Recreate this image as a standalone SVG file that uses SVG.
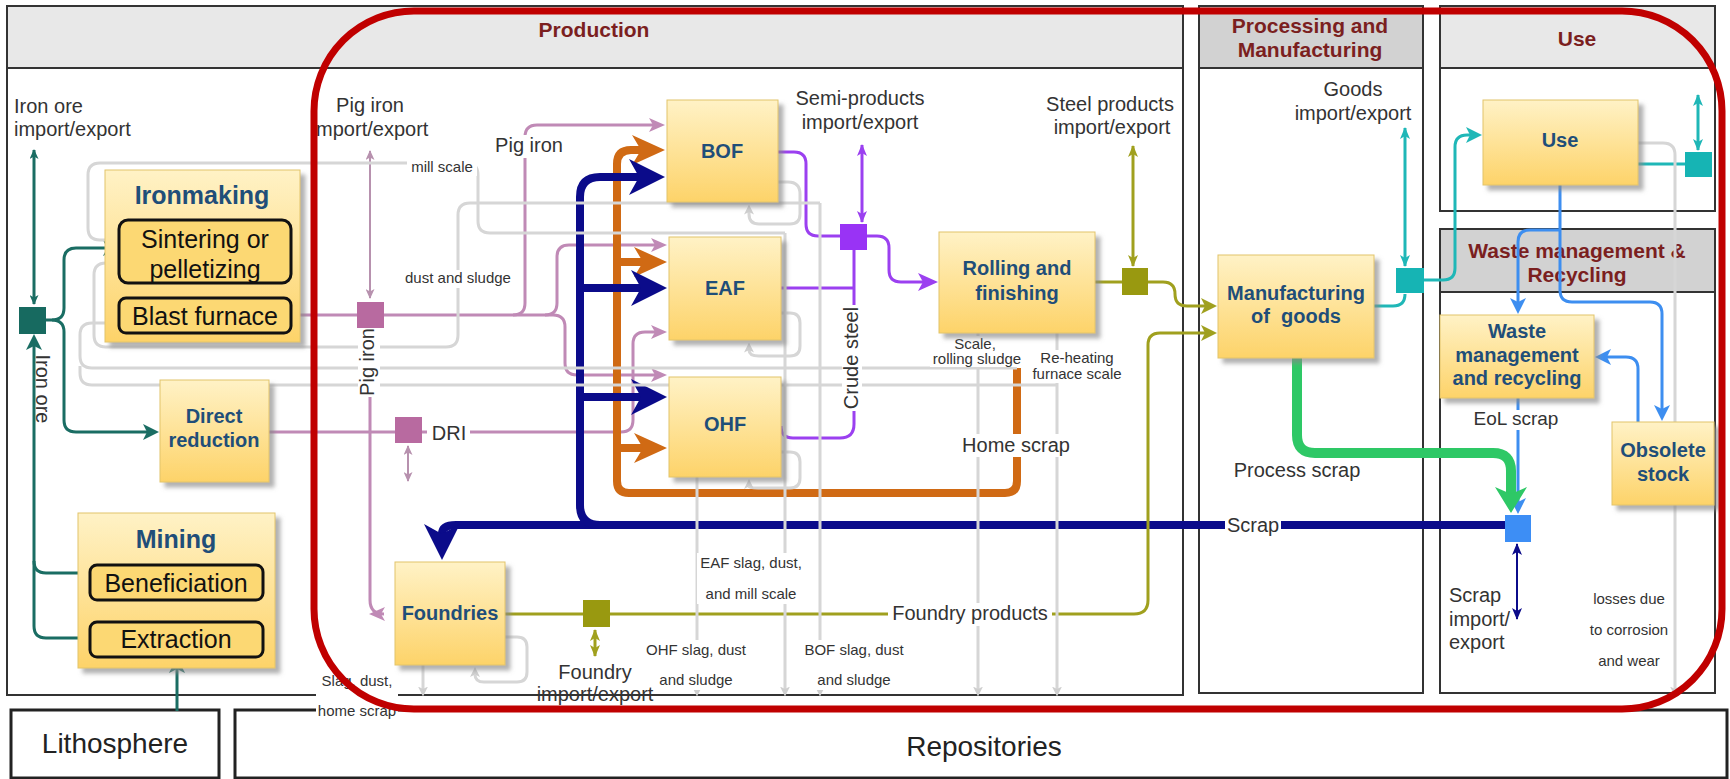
<svg xmlns="http://www.w3.org/2000/svg" width="1730" height="779" viewBox="0 0 1730 779">
<defs>
<style>
.pan{fill:#fff;stroke:#333;stroke-width:2}
.hd1{fill:#e8e8e8;stroke:#333;stroke-width:2}
.hd2{fill:#d2d2d2;stroke:#333;stroke-width:2}
.box{fill:url(#yg);stroke:#e2c46a;stroke-width:1;filter:url(#sh)}
.sub{fill:#fcd873;stroke:#111;stroke-width:3}
.g{fill:none;stroke:#d6d6d6;stroke-width:3}
.tealD{fill:none;stroke:#1a6d63;stroke-width:3}
.pink{fill:none;stroke:#c08ab6;stroke-width:3}
.pinkL{fill:none;stroke:#b791ae;stroke-width:2}
.navy{fill:none;stroke:#0b0b8a;stroke-width:8}
.navyT{fill:none;stroke:#0b0b8a;stroke-width:2}
.org{fill:none;stroke:#d06a14;stroke-width:8}
.pur{fill:none;stroke:#9b40f0;stroke-width:3}
.olv{fill:none;stroke:#a0a01e;stroke-width:3}
.teal{fill:none;stroke:#1fb7b7;stroke-width:3}
.blue{fill:none;stroke:#3d8ef0;stroke-width:3}
.grn{fill:none;stroke:#2ec866;stroke-width:10}
.nt{font-family:'Liberation Sans',Arial,sans-serif;font-weight:bold;font-size:20px;fill:#1f4e79;text-anchor:middle}
.tt{font-family:'Liberation Sans',Arial,sans-serif;font-weight:bold;font-size:25px;fill:#1f4e79;text-anchor:middle}
.st{font-family:'Liberation Sans',Arial,sans-serif;font-size:25px;fill:#111;text-anchor:middle}
.hd{font-family:'Liberation Sans',Arial,sans-serif;font-weight:bold;font-size:21px;fill:#7b1f1f;text-anchor:middle}
.l20{font-family:'Liberation Sans',Arial,sans-serif;font-size:20px;fill:#333;text-anchor:middle}
.l15{font-family:'Liberation Sans',Arial,sans-serif;font-size:15px;fill:#333;text-anchor:middle}
.big{font-family:'Liberation Sans',Arial,sans-serif;font-size:28px;fill:#222;text-anchor:middle}
.wb{fill:#fff}
</style>
<linearGradient id="yg" x1="0" y1="0" x2="0" y2="1">
<stop offset="0" stop-color="#fff2c6"/>
<stop offset="1" stop-color="#fdd369"/>
</linearGradient>
<filter id="sh" x="-10%" y="-10%" width="130%" height="130%">
<feDropShadow dx="5" dy="5" stdDeviation="2" flood-color="#888" flood-opacity="0.65"/>
</filter>
<marker id="mNavy" markerUnits="userSpaceOnUse" viewBox="0 0 36 36" markerWidth="36" markerHeight="36" refX="10" refY="18" orient="auto"><path d="M0,0 L36,18 L0,36 L10,18 z" fill="#0b0b8a"/></marker>
<marker id="mOrg" markerUnits="userSpaceOnUse" viewBox="0 0 33 30" markerWidth="33" markerHeight="30" refX="9" refY="15" orient="auto"><path d="M0,0 L33,15 L0,30 L9,15 z" fill="#d06a14"/></marker>
<marker id="mGrn" markerUnits="userSpaceOnUse" viewBox="0 0 26 32" markerWidth="26" markerHeight="32" refX="7" refY="16" orient="auto"><path d="M0,0 L26,16 L0,32 L7,16 z" fill="#2ec866"/></marker>
<marker id="mPink" markerUnits="userSpaceOnUse" viewBox="0 0 16 14" markerWidth="16" markerHeight="14" refX="4" refY="7" orient="auto"><path d="M0,0 L16,7 L0,14 L4,7 z" fill="#c08ab6"/></marker>
<marker id="mTealD" markerUnits="userSpaceOnUse" viewBox="0 0 16 16" markerWidth="16" markerHeight="16" refX="4" refY="8" orient="auto"><path d="M0,0 L16,8 L0,16 L4,8 z" fill="#1a6d63"/></marker>
<marker id="mPur" markerUnits="userSpaceOnUse" viewBox="0 0 20 18" markerWidth="20" markerHeight="18" refX="5" refY="9" orient="auto"><path d="M0,0 L20,9 L0,18 L5,9 z" fill="#9b40f0"/></marker>
<marker id="mOlv" markerUnits="userSpaceOnUse" viewBox="0 0 16 16" markerWidth="16" markerHeight="16" refX="4" refY="8" orient="auto"><path d="M0,0 L16,8 L0,16 L4,8 z" fill="#a0a01e"/></marker>
<marker id="mTeal" markerUnits="userSpaceOnUse" viewBox="0 0 16 16" markerWidth="16" markerHeight="16" refX="4" refY="8" orient="auto"><path d="M0,0 L16,8 L0,16 L4,8 z" fill="#1fb7b7"/></marker>
<marker id="mBlue" markerUnits="userSpaceOnUse" viewBox="0 0 16 16" markerWidth="16" markerHeight="16" refX="4" refY="8" orient="auto"><path d="M0,0 L16,8 L0,16 L4,8 z" fill="#3d8ef0"/></marker>
<marker id="mGray" markerUnits="userSpaceOnUse" viewBox="0 0 10 10" markerWidth="10" markerHeight="10" refX="2.5" refY="5" orient="auto"><path d="M0,0 L10,5 L0,10 L2.5,5 z" fill="#cfcfcf"/></marker>
<marker id="dTealD" markerUnits="userSpaceOnUse" viewBox="0 0 10 9" markerWidth="10" markerHeight="9" refX="9" refY="4.5" orient="auto-start-reverse"><path d="M0,0 L10,4.5 L0,9 L2.5,4.5 z" fill="#1a6d63"/></marker>
<marker id="dPink" markerUnits="userSpaceOnUse" viewBox="0 0 10 9" markerWidth="10" markerHeight="9" refX="9" refY="4.5" orient="auto-start-reverse"><path d="M0,0 L10,4.5 L0,9 L2.5,4.5 z" fill="#b791ae"/></marker>
<marker id="dPur" markerUnits="userSpaceOnUse" viewBox="0 0 12 10" markerWidth="12" markerHeight="10" refX="11" refY="5" orient="auto-start-reverse"><path d="M0,0 L12,5 L0,10 L3,5 z" fill="#9b40f0"/></marker>
<marker id="dOlv" markerUnits="userSpaceOnUse" viewBox="0 0 12 10" markerWidth="12" markerHeight="10" refX="11" refY="5" orient="auto-start-reverse"><path d="M0,0 L12,5 L0,10 L3,5 z" fill="#a0a01e"/></marker>
<marker id="dTeal" markerUnits="userSpaceOnUse" viewBox="0 0 12 10" markerWidth="12" markerHeight="10" refX="11" refY="5" orient="auto-start-reverse"><path d="M0,0 L12,5 L0,10 L3,5 z" fill="#1fb7b7"/></marker>
<marker id="dNavy" markerUnits="userSpaceOnUse" viewBox="0 0 12 10" markerWidth="12" markerHeight="10" refX="11" refY="5" orient="auto-start-reverse"><path d="M0,0 L12,5 L0,10 L3,5 z" fill="#0b0b8a"/></marker>
</defs>

<rect width="1730" height="779" fill="#fff"/>

<g id="panels">
<rect class="pan" x="7" y="6" width="1176" height="689"/>
<rect class="hd1" x="7" y="6" width="1176" height="62"/>
<text class="hd" x="594" y="37">Production</text>
<rect class="pan" x="1199" y="6" width="224" height="687"/>
<rect class="hd2" x="1199" y="6" width="224" height="62"/>
<text class="hd" x="1310" y="33">Processing and</text>
<text class="hd" x="1310" y="57">Manufacturing</text>
<rect class="pan" x="1440" y="6" width="275" height="205"/>
<rect class="hd1" x="1440" y="6" width="275" height="62"/>
<text class="hd" x="1577" y="46">Use</text>
<rect class="pan" x="1440" y="229" width="275" height="464"/>
<rect class="hd2" x="1440" y="229" width="275" height="63"/>
<text class="hd" x="1577" y="258">Waste management &amp;</text>
<text class="hd" x="1577" y="282">Recycling</text>
</g>

<g id="lithosphere"><rect x="11" y="710" width="208" height="68" fill="#fff" stroke="#222" stroke-width="3"/><text class="big" x="115" y="753">Lithosphere</text></g>
<g id="repositories"><rect x="235" y="710" width="1492" height="68" fill="#fff" stroke="#222" stroke-width="3"/><text class="big" x="984" y="756">Repositories</text></g>

<g id="connectors">
<!-- iron ore (dark teal) -->
<path class="tealD" d="M34,150 L34,304" marker-start="url(#dTealD)" marker-end="url(#dTealD)"/>
<path class="tealD" d="M45,320 L52,320 Q64,320 64,308 L64,260 Q64,248 76,248 L107,248" marker-end="url(#mTealD)"/>
<path class="tealD" d="M52,320 Q64,320 64,332 L64,420 Q64,432 76,432 L147,432" marker-end="url(#mTealD)"/>
<path class="tealD" d="M90,638 L46,638 Q34,638 34,626 L34,346" marker-end="url(#mTealD)"/>
<path class="tealD" d="M90,573 L46,573 Q34,573 34,561"/>
<path class="tealD" d="M177,622 L177,612" marker-end="url(#mTealD)"/>
<path class="tealD" d="M177,711 L177,669" marker-end="url(#mTealD)"/>
<path class="tealD" d="M207,283 L207,298"/>

<!-- pig iron / DRI (pink) -->
<path class="pinkL" d="M370,151 L370,298" marker-start="url(#dPink)" marker-end="url(#dPink)"/>
<path class="pink" d="M291,315 L357,315"/>
<path class="pink" d="M384,315 L513,315 Q525,315 525,303 L525,137 Q525,125 537,125 L653,125" marker-end="url(#mPink)"/>
<path class="pink" d="M513,315 L545,315 Q557,315 557,303 L557,257 Q557,245 569,245 L655,245" marker-end="url(#mPink)"/>
<path class="pink" d="M545,315 L553,315 Q565,315 565,327 L565,363 Q565,375 577,375 L655,375" marker-end="url(#mPink)"/>
<path class="pink" d="M370,328 L370,600 Q370,614 384,614 L381,614" marker-end="url(#mPink)"/>
<path class="pink" d="M269,432 L395,432"/>
<path class="pink" d="M422,432 L621,432 Q633,432 633,420 L633,344 Q633,332 645,332 L655,332" marker-end="url(#mPink)"/>
<path class="pinkL" d="M408,446 L408,481" marker-start="url(#dPink)" marker-end="url(#dPink)"/>

<!-- home scrap (orange) -->
<path class="org" d="M1017,368 L1017,481 Q1017,493 1005,493 L629,493 Q617,493 617,481 L617,164 Q617,150 631,150 L641,150" marker-end="url(#mOrg)"/>
<path class="org" d="M617,262 L643,262" marker-end="url(#mOrg)"/>
<path class="org" d="M617,448 L643,448" marker-end="url(#mOrg)"/>

<!-- scrap (navy) -->
<path class="navy" d="M1505,525 L456,525 Q442,525 442,534" marker-end="url(#mNavy)"/>
<path class="navy" d="M600,525 Q580,525 580,505 L580,197 Q580,177 600,177 L639,177" marker-end="url(#mNavy)"/>
<path class="navy" d="M580,288 L641,288" marker-end="url(#mNavy)"/>
<path class="navy" d="M580,397 L641,397" marker-end="url(#mNavy)"/>
<path class="navyT" d="M1517,544 L1517,619" marker-start="url(#dNavy)" marker-end="url(#dNavy)"/>

<!-- crude steel (purple) -->
<path class="pur" d="M778,152 L794,152 Q806,152 806,164 L806,224 Q806,236 818,236 L840,236"/>
<path class="pur" d="M867,236 L877,236 Q889,236 889,248 L889,270 Q889,282 901,282 L923,282" marker-end="url(#mPur)"/>
<path class="pur" d="M781,288 L854,288"/>
<path class="pur" d="M781,426 Q781,438 793,438 L840,438 Q854,438 854,424 L854,250"/>
<path class="pur" d="M862,145 L862,222" marker-start="url(#dPur)" marker-end="url(#dPur)"/>

<!-- steel / foundry products (olive) -->
<path class="olv" d="M1095,282 L1122,282"/>
<path class="olv" d="M1148,282 L1163,282 Q1175,282 1175,294 Q1175,306 1187,306 L1205,306" marker-end="url(#mOlv)"/>
<path class="olv" d="M1133,146 L1133,266" marker-start="url(#dOlv)" marker-end="url(#dOlv)"/>
<path class="olv" d="M505,614 L583,614"/>
<path class="olv" d="M610,614 L1134,614 Q1148,614 1148,600 L1148,345 Q1148,333 1160,333 L1205,333" marker-end="url(#mOlv)"/>
<path class="olv" d="M595,630 L595,656" marker-start="url(#dOlv)" marker-end="url(#dOlv)"/>

<!-- goods (teal) -->
<path class="teal" d="M1374,306 L1393,306 Q1405,306 1405,294"/>
<path class="teal" d="M1405,128 L1405,266" marker-start="url(#dTeal)" marker-end="url(#dTeal)"/>
<path class="teal" d="M1424,280 L1443,280 Q1455,280 1455,268 L1455,147 Q1455,135 1467,135 L1470,135" marker-end="url(#mTeal)"/>
<path class="teal" d="M1638,164 L1685,164"/>
<path class="teal" d="M1698,95 L1698,150" marker-start="url(#dTeal)" marker-end="url(#dTeal)"/>

<!-- waste (blue) -->
<path class="blue" d="M1560,185 L1560,290 Q1560,302 1572,302 L1650,302 Q1662,302 1662,314 L1662,409" marker-end="url(#mBlue)"/>
<path class="blue" d="M1560,230 L1530,230 Q1518,230 1518,242 L1518,302" marker-end="url(#mBlue)"/>
<path class="blue" d="M1638,422 L1638,369 Q1638,357 1626,357 L1607,357" marker-end="url(#mBlue)"/>
<path class="blue" d="M1518,398 L1518,502" marker-end="url(#mBlue)"/>

<!-- process scrap (green) -->
<path class="grn" d="M1297,358 L1297,435 Q1297,453 1315,453 L1493,453 Q1511,453 1511,471 L1511,494" marker-end="url(#mGrn)"/>

<!-- gray recycling / loss flows -->
<path class="g" d="M785,233 L785,689" marker-end="url(#mGray)"/>
<path class="g" d="M785,233 L490,233 Q478,233 478,221 L478,175 Q478,163 466,163 L100,163 Q88,163 88,175 L88,228 Q88,240 100,240 L109,240" marker-end="url(#mGray)"/>
<path class="g" d="M820,203 L820,689" marker-end="url(#mGray)"/>
<path class="g" d="M820,203 L470,203 Q458,203 458,215 L458,335 Q458,347 446,347 L106,347 Q94,347 94,335 L94,275 Q94,263 106,263 L109,263" marker-end="url(#mGray)"/>
<path class="g" d="M978,333 L978,689" marker-end="url(#mGray)"/>
<path class="g" d="M1017,368 L92,368 Q80,368 80,356 L80,335 Q80,323 92,323 L109,323" marker-end="url(#mGray)"/>
<path class="g" d="M1057,333 L1057,689" marker-end="url(#mGray)"/>
<path class="g" d="M1057,385 L92,385 Q80,385 80,373 L80,366"/>
<path class="g" d="M697,477 L697,689" marker-end="url(#mGray)"/>
<path class="g" d="M423,665 L423,689" marker-end="url(#mGray)"/>
<path class="g" d="M778,182 L788,182 Q800,182 800,194 L800,214 Q800,224 790,224 L759,224 Q749,224 749,214 L749,212" marker-end="url(#mGray)"/>
<path class="g" d="M781,313 L790,313 Q800,313 800,323 L800,346 Q800,356 790,356 L759,356 Q749,356 749,350" marker-end="url(#mGray)"/>
<path class="g" d="M781,452 L790,452 Q800,452 800,462 L800,478 Q800,488 790,488 L758,488 Q749,488 749,486.5" marker-end="url(#mGray)"/>
<path class="g" d="M505,637 L517,637 Q527,637 527,647 L527,672 Q527,682 517,682 L484,682 Q475,682 475,674.5" marker-end="url(#mGray)"/>
<path class="g" d="M1638,143 L1663,143 Q1675,143 1675,155 L1675,689" marker-end="url(#mGray)"/>
</g>

<g id="labels">
<text class="l20" x="14" y="113" style="text-anchor:start">Iron ore</text>
<text class="l20" x="14" y="136" style="text-anchor:start">import/export</text>
<text class="l20" x="36" y="389" transform="rotate(90 36 389)">Iron ore</text>
<text class="l20" x="370" y="112">Pig iron</text>
<text class="l20" x="370" y="136">import/export</text>
<rect class="wb" x="493" y="135" width="73" height="23"/>
<text class="l20" x="529" y="152">Pig iron</text>
<rect class="wb" x="407" y="158" width="70" height="18"/>
<text class="l15" x="442" y="172">mill scale</text>
<rect class="wb" x="403" y="270" width="110" height="18"/>
<text class="l15" x="458" y="283">dust and sludge</text>
<rect class="wb" x="358" y="327" width="22" height="70"/>
<text class="l20" x="374" y="362" transform="rotate(-90 374 362)">Pig iron</text>
<rect class="wb" x="427" y="420" width="43" height="24"/>
<text class="l20" x="449" y="440">DRI</text>
<text class="l20" x="860" y="105">Semi-products</text>
<text class="l20" x="860" y="129">import/export</text>
<rect class="wb" x="842" y="305" width="20" height="106"/>
<text class="l20" x="858" y="358" transform="rotate(-90 858 358)">Crude steel</text>
<text class="l20" x="1110" y="111">Steel products</text>
<text class="l20" x="1112" y="134">import/export</text>
<rect class="wb" x="930" y="336" width="94" height="31"/>
<text class="l15" x="975" y="349">Scale,</text>
<text class="l15" x="977" y="364">rolling sludge</text>
<rect class="wb" x="1030" y="350" width="95" height="33"/>
<text class="l15" x="1077" y="363">Re-heating</text>
<text class="l15" x="1077" y="379">furnace scale</text>
<rect class="wb" x="958" y="434" width="116" height="23"/>
<text class="l20" x="1016" y="452">Home scrap</text>
<rect class="wb" x="1225" y="515" width="56" height="22"/>
<text class="l20" x="1253" y="532">Scrap</text>
<rect class="wb" x="697" y="553" width="108" height="51"/>
<text class="l15" x="751" y="568">EAF slag, dust,</text>
<text class="l15" x="751" y="599">and mill scale</text>
<rect class="wb" x="888" y="603" width="164" height="23"/>
<text class="l20" x="970" y="620">Foundry products</text>
<rect class="wb" x="644" y="640" width="105" height="50"/>
<text class="l15" x="696" y="655">OHF slag, dust</text>
<text class="l15" x="696" y="685">and sludge</text>
<rect class="wb" x="800" y="640" width="108" height="50"/>
<text class="l15" x="854" y="655">BOF slag, dust</text>
<text class="l15" x="854" y="685">and sludge</text>
<text class="l20" x="595" y="679">Foundry</text>
<text class="l20" x="595" y="701">import/export</text>
<rect class="wb" x="316" y="672" width="82" height="48"/>
<text class="l15" x="357" y="686">Slag, dust,</text>
<text class="l15" x="357" y="716">home scrap</text>
<text class="l20" x="1353" y="96">Goods</text>
<text class="l20" x="1353" y="120">import/export</text>
<text class="l20" x="1297" y="477">Process scrap</text>
<rect class="wb" x="1472" y="410" width="90" height="20"/>
<text class="l20" x="1516" y="425" style="font-size:19px">EoL scrap</text>
<text class="l20" x="1449" y="602" style="text-anchor:start">Scrap</text>
<text class="l20" x="1449" y="626" style="text-anchor:start">import/</text>
<text class="l20" x="1449" y="649" style="text-anchor:start">export</text>
<text class="l15" x="1629" y="604">losses due</text>
<text class="l15" x="1629" y="635">to corrosion</text>
<text class="l15" x="1629" y="666">and wear</text>
</g>

<g id="sq-ironore"><rect x="19" y="307" width="27" height="27" fill="#176a60"/></g>
<g id="sq-pigiron"><rect x="357" y="302" width="27" height="26" fill="#b86aa0"/></g>
<g id="sq-dri"><rect x="395" y="417" width="27" height="26" fill="#b86aa0"/></g>
<g id="sq-semi"><rect x="840" y="224" width="27" height="26" fill="#9933f5"/></g>
<g id="sq-steel"><rect x="1122" y="268" width="26" height="27" fill="#999910"/></g>
<g id="sq-foundry"><rect x="583" y="600" width="27" height="27" fill="#999910"/></g>
<g id="sq-goods"><rect x="1396" y="268" width="28" height="25" fill="#16b4b4"/></g>
<g id="sq-use"><rect x="1685" y="152" width="27" height="25" fill="#16b4b4"/></g>
<g id="sq-scrap"><rect x="1505" y="515" width="26" height="27" fill="#3d8ef5"/></g>

<g id="ironmaking">
<rect class="box" x="105" y="170" width="195" height="172"/>
<text class="tt" x="202" y="204">Ironmaking</text>
</g>
<g id="sintering"><rect class="sub" x="119" y="220" width="172" height="63" rx="9"/>
<text class="st" x="205" y="248">Sintering or</text><text class="st" x="205" y="278">pelletizing</text></g>
<g id="blastfurnace"><rect class="sub" x="119" y="298" width="172" height="35" rx="7"/>
<text class="st" x="205" y="325">Blast furnace</text></g>
<g id="directreduction"><rect class="box" x="160" y="380" width="109" height="102"/>
<text class="nt" x="214" y="423">Direct</text><text class="nt" x="214" y="447">reduction</text></g>
<g id="mining"><rect class="box" x="78" y="513" width="197" height="155"/>
<text class="tt" x="176" y="548">Mining</text></g>
<g id="beneficiation"><rect class="sub" x="90" y="565" width="173" height="35" rx="7"/>
<text class="st" x="176" y="592">Beneficiation</text></g>
<g id="extraction"><rect class="sub" x="90" y="622" width="173" height="35" rx="7"/>
<text class="st" x="176" y="648">Extraction</text></g>
<g id="bof"><rect class="box" x="667" y="100" width="111" height="102"/><text class="nt" x="722" y="158">BOF</text></g>
<g id="eaf"><rect class="box" x="669" y="237" width="112" height="103"/><text class="nt" x="725" y="295">EAF</text></g>
<g id="ohf"><rect class="box" x="669" y="377" width="112" height="100"/><text class="nt" x="725" y="431">OHF</text></g>
<g id="rolling"><rect class="box" x="939" y="232" width="156" height="101"/>
<text class="nt" x="1017" y="275">Rolling and</text><text class="nt" x="1017" y="300">finishing</text></g>
<g id="foundries"><rect class="box" x="395" y="562" width="110" height="103"/><text class="nt" x="450" y="620">Foundries</text></g>
<g id="manufacturing"><rect class="box" x="1218" y="255" width="156" height="103"/>
<text class="nt" x="1296" y="300">Manufacturing</text><text class="nt" x="1296" y="323" style="white-space:pre">of  goods</text></g>
<g id="use"><rect class="box" x="1483" y="100" width="155" height="85"/><text class="nt" x="1560" y="147">Use</text></g>
<g id="wastemgmt"><rect class="box" x="1440" y="315" width="154" height="83"/>
<text class="nt" x="1517" y="338">Waste</text><text class="nt" x="1517" y="362">management</text><text class="nt" x="1517" y="385">and recycling</text></g>
<g id="obsolete"><rect class="box" x="1612" y="422" width="102" height="83"/>
<text class="nt" x="1663" y="457">Obsolete</text><text class="nt" x="1663" y="481">stock</text></g>

<g id="highlight"><rect x="314" y="11" width="1408" height="698" rx="100" ry="100" fill="none" stroke="#c00000" stroke-width="7"/></g>
</svg>
